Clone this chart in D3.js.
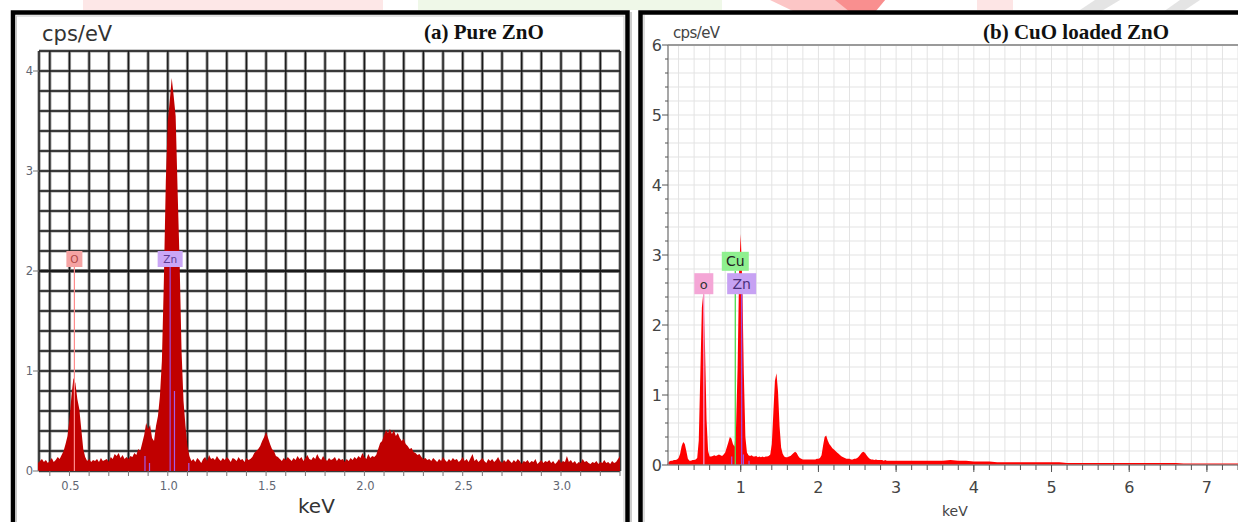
<!DOCTYPE html>
<html>
<head>
<meta charset="utf-8">
<script src="https://cdn.jsdelivr.net/npm/d3@7"></script>
<style>
  html, body { margin: 0; padding: 0; background: #fff; overflow: hidden; }
  svg { display: block; }
</style>
</head>
<body>
<svg id="chart" width="1238" height="522"></svg>
<script>
// (a) Pure ZnO spectrum, cps/eV, one value every 0.01 keV from 0.34 keV
const pureStart = 0.34, pureStep = 0.01;
const pureCounts = [
  0.08, 0.10, 0.12, 0.09, 0.11, 0.08, 0.10, 0.13, 0.09, 0.11,
  0.14, 0.12, 0.16, 0.20, 0.27, 0.35, 0.52, 0.75, 0.93, 0.88,
  0.72, 0.62, 0.42, 0.22, 0.14, 0.10, 0.12, 0.09, 0.11, 0.10,
  0.12, 0.09, 0.13, 0.10, 0.11, 0.12, 0.09, 0.14, 0.12, 0.17,
  0.15, 0.18, 0.13, 0.16, 0.12, 0.14, 0.12, 0.15, 0.14, 0.18,
  0.16, 0.22, 0.20, 0.28, 0.36, 0.48, 0.42, 0.46, 0.33, 0.30,
  0.45, 0.55, 0.75, 1.10, 1.90, 2.90, 3.50, 3.70, 3.93, 3.75,
  3.55, 2.80, 2.10, 1.20, 0.70, 0.45, 0.25, 0.15, 0.10, 0.12,
  0.09, 0.13, 0.11, 0.08, 0.12, 0.14, 0.10, 0.16, 0.12, 0.13,
  0.11, 0.15, 0.12, 0.10, 0.13, 0.11, 0.14, 0.12, 0.09, 0.13,
  0.12, 0.10, 0.14, 0.11, 0.12, 0.09, 0.13, 0.11, 0.12, 0.14,
  0.18, 0.20, 0.22, 0.25, 0.30, 0.34, 0.39, 0.33, 0.27, 0.22,
  0.20, 0.15, 0.14, 0.12, 0.10, 0.13, 0.11, 0.14, 0.12, 0.10,
  0.13, 0.11, 0.15, 0.12, 0.14, 0.10, 0.13, 0.16, 0.12, 0.11,
  0.14, 0.12, 0.17, 0.13, 0.11, 0.15, 0.12, 0.10, 0.13, 0.11,
  0.12, 0.14, 0.10, 0.13, 0.11, 0.12, 0.09, 0.12, 0.10, 0.13,
  0.11, 0.14, 0.12, 0.15, 0.13, 0.18, 0.14, 0.12, 0.17, 0.13,
  0.15, 0.14, 0.16, 0.22, 0.28, 0.30, 0.36, 0.41, 0.38, 0.42,
  0.37, 0.41, 0.35, 0.38, 0.33, 0.30, 0.32, 0.27, 0.25, 0.22,
  0.23, 0.19, 0.18, 0.16, 0.17, 0.14, 0.12, 0.13, 0.11, 0.12,
  0.10, 0.13, 0.11, 0.09, 0.12, 0.10, 0.14, 0.11, 0.09, 0.12,
  0.10, 0.13, 0.11, 0.12, 0.09, 0.11, 0.14, 0.10, 0.12, 0.09,
  0.13, 0.17, 0.10, 0.12, 0.09, 0.11, 0.13, 0.10, 0.08, 0.12,
  0.10, 0.12, 0.09, 0.11, 0.14, 0.10, 0.08, 0.11, 0.09, 0.12,
  0.10, 0.08, 0.11, 0.09, 0.12, 0.10, 0.07, 0.10, 0.09, 0.11,
  0.08, 0.10, 0.09, 0.12, 0.07, 0.09, 0.11, 0.08, 0.10, 0.09,
  0.11, 0.08, 0.10, 0.07, 0.09, 0.12, 0.08, 0.10, 0.09, 0.15,
  0.09, 0.11, 0.08, 0.10, 0.07, 0.09, 0.08, 0.12, 0.09, 0.10,
  0.08, 0.07, 0.09, 0.08, 0.10, 0.07, 0.09, 0.08, 0.11, 0.08,
  0.09, 0.07, 0.10, 0.08, 0.09, 0.12, 0.15
];

// (b) CuO loaded ZnO spectrum: every 0.02 keV up to 3 keV, then every 0.1 keV
const loadedStart = 0.06, loadedStep = 0.02;
const loadedCounts = [
  0.03, 0.05, 0.06, 0.06, 0.07, 0.07, 0.08, 0.10, 0.16, 0.27,
  0.33, 0.30, 0.20, 0.09, 0.06, 0.06, 0.07, 0.07, 0.08, 0.10,
  0.35, 1.30, 2.25, 2.47, 1.70, 0.65, 0.20, 0.12, 0.12, 0.13,
  0.14, 0.13, 0.14, 0.15, 0.14, 0.13, 0.15, 0.18, 0.25, 0.32,
  0.40, 0.38, 0.30, 0.26, 0.55, 1.40, 2.80, 3.30, 2.60, 1.30,
  0.40, 0.18, 0.14, 0.13, 0.14, 0.12, 0.12, 0.13, 0.11, 0.12,
  0.11, 0.12, 0.11, 0.12, 0.12, 0.13, 0.15, 0.30, 0.75, 1.20,
  1.31, 1.05, 0.55, 0.25, 0.16, 0.12, 0.11, 0.11, 0.12, 0.13,
  0.15, 0.17, 0.19, 0.17, 0.13, 0.10, 0.09, 0.08, 0.08, 0.08,
  0.08, 0.08, 0.08, 0.08, 0.08, 0.08, 0.09, 0.09, 0.10, 0.14,
  0.28, 0.40, 0.42, 0.35, 0.30, 0.27, 0.24, 0.22, 0.20, 0.18,
  0.16, 0.14, 0.12, 0.11, 0.10, 0.09, 0.09, 0.09, 0.08, 0.08,
  0.09, 0.09, 0.10, 0.12, 0.15, 0.18, 0.19, 0.17, 0.14, 0.11,
  0.09, 0.08, 0.08, 0.07, 0.08, 0.07, 0.07, 0.07, 0.07, 0.06,
  0.07, 0.06, 0.06, 0.06, 0.06, 0.06, 0.06, 0.06
];
const loadedTailStart = 3.1, loadedTailStep = 0.1;
const loadedTailCounts = [
  0.06, 0.06, 0.06, 0.06, 0.06, 0.06, 0.07, 0.06, 0.06, 0.05,
  0.05, 0.05, 0.04, 0.04, 0.04, 0.04, 0.04, 0.04, 0.04, 0.04,
  0.04, 0.03, 0.03, 0.03, 0.03, 0.03, 0.03, 0.03, 0.03, 0.03,
  0.03, 0.03, 0.03, 0.03, 0.03, 0.03, 0.02, 0.02, 0.02, 0.02,
  0.02, 0.02, 0.02, 0.02
];

// ticks
const pureXTicks = [0.5, 1.0, 1.5, 2.0, 2.5, 3.0];
const pureYTicks = [0, 1, 2, 3, 4];
const loadedXTicks = [1, 2, 3, 4, 5, 6, 7];
const loadedYTicks = [0, 1, 2, 3, 4, 5, 6];

// element markers
const pureElements = ["O", "Zn"];
const pureElementKeV = [0.525, 1.012];
const pureZnLineKeV = [0.884, 0.907, 1.034, 1.107];
const pureZnLineHeight = [0.15, 0.08, 0.8, 0.08];

const loadedElements = ["O", "Cu", "Zn"];
const loadedElementKeV = [0.525, 0.93, 1.012];
const loadedZnLineKeV = [0.884, 1.034, 1.107];
const loadedZnLineHeight = [0.12, 0.15, 0.06];

const markerStyle = {
  O:  { box: "#f5a3a3", text: "#b04848", line: "#ff8a8a" },
  Zn: { box: "#caa6f6", text: "#5b3a94", line: "#9b4fe0" },
  Cu: { box: "#8ff08f", text: "#1f3a1f", line: "#5ee05e" }
};
const loadedMarkerStyle = {
  O:  { box: "#f4a6d6", text: "#333", line: "#f59ad0" },
  Zn: { box: "#c7a2f3", text: "#4a2f7a", line: "#9b4fe0" },
  Cu: { box: "#8ff08f", text: "#222", line: "#4fdc4f" }
};

const toPoints = (start, step, vals) =>
  vals.map((v, i) => ({ k: +(start + i * step).toFixed(3), v }));

const svg = d3.select("#chart");

// faint page watermark strip along the top
const wm = svg.append("g");
wm.append("rect").attr("x", 83).attr("y", 0).attr("width", 300).attr("height", 10).attr("fill", "#fde7e7");
wm.append("rect").attr("x", 418).attr("y", 0).attr("width", 304).attr("height", 10).attr("fill", "#eff8e8");
wm.append("polygon").attr("points", "770,0 885,0 875,12 795,12").attr("fill", "#fcc6c6");
wm.append("polygon").attr("points", "835,0 885,0 875,12 850,12").attr("fill", "#f98f8f");
wm.append("rect").attr("x", 977).attr("y", 0).attr("width", 36).attr("height", 10).attr("fill", "#fde5e5");
wm.append("polygon").attr("points", "1095,0 1120,0 1100,12 1077,12").attr("fill", "#e4e4e4");
wm.append("polygon").attr("points", "1180,0 1200,0 1182,12 1163,12").attr("fill", "#e4e4e4");

// ---------- panel (a) ----------
function drawPure() {
  const g = svg.append("g");
  g.append("rect").attr("x", 13).attr("y", 12.5).attr("width", 614.5).attr("height", 540)
    .attr("fill", "#fff").attr("stroke", "#000").attr("stroke-width", 4.5);
  g.append("rect").attr("x", 16.5).attr("y", 16).attr("width", 607.5).attr("height", 540)
    .attr("fill", "none").attr("stroke", "#c8c8c8").attr("stroke-width", 1);
  g.append("line").attr("x1", 631).attr("x2", 631).attr("y1", 12).attr("y2", 522)
    .attr("stroke", "#999").attr("stroke-width", 1);

  const x = d3.scaleLinear().domain([0.345, 3.3]).range([39, 620]);
  const y = d3.scaleLinear().domain([0, 4.2]).range([471, 51]);

  const vGrid = [0.345].concat(d3.range(4, 34).map(i => i / 10));
  const hGrid = d3.range(0, 22).map(i => i / 5);

  const grid = g.append("g");
  [["#999", 3.2], ["#1a1a1a", 1.4]].forEach(([c, w]) => {
    grid.selectAll(null).data(vGrid).enter().append("line")
      .attr("x1", d => x(d)).attr("x2", d => x(d))
      .attr("y1", y(4.2)).attr("y2", y(0))
      .attr("stroke", c).attr("stroke-width", w);
    grid.selectAll(null).data(hGrid).enter().append("line")
      .attr("x1", x(0.345)).attr("x2", x(3.3))
      .attr("y1", d => y(d)).attr("y2", d => y(d))
      .attr("stroke", c).attr("stroke-width", d => d === 2 ? w + 1 : w);
  });

  const pts = toPoints(pureStart, pureStep, pureCounts);
  const area = d3.area().x(d => x(d.k)).y0(y(0)).y1(d => y(d.v));
  g.append("path").datum(pts).attr("d", area).attr("fill", "#c00000");

  // Zn minor lines
  g.selectAll(null).data(pureZnLineKeV).enter().append("line")
    .attr("x1", d => x(d)).attr("x2", d => x(d))
    .attr("y1", (d, i) => y(pureZnLineHeight[i])).attr("y2", y(0))
    .attr("stroke", "#a35ae8").attr("stroke-width", 1.2);

  // element markers
  const labelY = y(2.12);
  pureElements.forEach((el, i) => {
    const cx = x(pureElementKeV[i]);
    const st = markerStyle[el];
    g.append("line").attr("x1", cx).attr("x2", cx).attr("y1", labelY + 8).attr("y2", y(0))
      .attr("stroke", st.line).attr("stroke-width", 1.2);
    const w = el.length > 1 ? 25 : 16;
    g.append("rect").attr("x", cx - w / 2).attr("y", labelY - 8).attr("width", w).attr("height", 16)
      .attr("fill", st.box);
    g.append("text").attr("x", cx).attr("y", labelY + 4).attr("text-anchor", "middle")
      .attr("font-family", "DejaVu Sans").attr("font-size", 10.5).attr("fill", st.text).text(el);
  });

  // axes
  const ax = g.append("g").attr("font-family", "DejaVu Sans").attr("fill", "#5f6673");
  ax.selectAll(null).data(d3.range(4, 34).map(i => i / 10)).enter().append("line")
    .attr("x1", d => x(d)).attr("x2", d => x(d)).attr("y1", y(0)).attr("y2", y(0) + 5)
    .attr("stroke", "#777").attr("stroke-width", 1);
  ax.selectAll(null).data(pureXTicks).enter().append("text")
    .attr("x", d => x(d) + 1).attr("y", 490).attr("text-anchor", "middle")
    .attr("font-size", 11.5).text(d => d.toFixed(1));
  ax.selectAll(null).data(pureYTicks).enter().append("line")
    .attr("x1", 33).attr("x2", 39).attr("y1", d => y(d)).attr("y2", d => y(d))
    .attr("stroke", "#777").attr("stroke-width", 1);
  ax.selectAll(null).data(pureYTicks).enter().append("text")
    .attr("x", 33).attr("y", d => y(d) + 4).attr("text-anchor", "end")
    .attr("font-size", 11.5).text(d => d);

  g.append("text").attr("x", 42).attr("y", 41).attr("font-family", "DejaVu Sans")
    .attr("font-size", 21).attr("fill", "#333").text("cps/eV");
  g.append("text").attr("x", 298).attr("y", 513).attr("font-family", "DejaVu Sans")
    .attr("font-size", 20).attr("fill", "#333").text("keV");
  g.append("text").attr("x", 424).attr("y", 39).attr("font-family", "Liberation Serif")
    .attr("font-weight", "bold").attr("font-size", 21).attr("fill", "#111")
    .text("(a) Pure ZnO");
}

// ---------- panel (b) ----------
function drawLoaded() {
  const g = svg.append("g");
  g.append("rect").attr("x", 640.5).attr("y", 12.5).attr("width", 620).attr("height", 540)
    .attr("fill", "#fff").attr("stroke", "#000").attr("stroke-width", 4.5);
  g.append("line").attr("x1", 644).attr("x2", 644).attr("y1", 15).attr("y2", 522)
    .attr("stroke", "#bbb").attr("stroke-width", 1);

  const x = d3.scaleLinear().domain([0.064, 7.4]).range([668, 1238]);
  const y = d3.scaleLinear().domain([0, 6]).range([465, 45]);

  const vGrid = d3.range(1, 38).map(i => +(i * 0.2).toFixed(1));
  const hGrid = d3.range(1, 30).map(i => +(i * 0.2).toFixed(1));
  const grid = g.append("g").attr("stroke", "#e3e3e3").attr("stroke-width", 1);
  grid.selectAll(null).data(vGrid).enter().append("line")
    .attr("x1", d => x(d)).attr("x2", d => x(d)).attr("y1", y(6)).attr("y2", y(0));
  grid.selectAll(null).data(hGrid).enter().append("line")
    .attr("x1", x(0.064)).attr("x2", 1238).attr("y1", d => y(d)).attr("y2", d => y(d));

  const pts = toPoints(loadedStart, loadedStep, loadedCounts)
    .concat(toPoints(loadedTailStart, loadedTailStep, loadedTailCounts));
  const area = d3.area().x(d => x(d.k)).y0(y(0)).y1(d => y(d.v));
  g.append("path").datum(pts).attr("d", area).attr("fill", "#ff0000");

  g.selectAll(null).data(loadedZnLineKeV).enter().append("line")
    .attr("x1", d => x(d)).attr("x2", d => x(d))
    .attr("y1", (d, i) => y(loadedZnLineHeight[i])).attr("y2", y(0))
    .attr("stroke", "#a35ae8").attr("stroke-width", 1.2);

  // element markers: O and Zn share a row, Cu sits above
  const rowLevel = { O: 2.59, Zn: 2.59, Cu: 2.91 };
  const boxW = { O: 19, Zn: 29, Cu: 27 };
  const boxH = { O: 21, Zn: 21, Cu: 19 };
  loadedElements.forEach((el, i) => {
    const cx = x(loadedElementKeV[i]);
    const cy = y(rowLevel[el]);
    const st = loadedMarkerStyle[el];
    g.append("line").attr("x1", cx).attr("x2", cx).attr("y1", cy + boxH[el] / 2).attr("y2", y(0))
      .attr("stroke", st.line).attr("stroke-width", 1.3);
  });
  loadedElements.forEach((el, i) => {
    const cx = x(loadedElementKeV[i]);
    const cy = y(rowLevel[el]);
    const st = loadedMarkerStyle[el];
    g.append("rect").attr("x", cx - boxW[el] / 2).attr("y", cy - boxH[el] / 2)
      .attr("width", boxW[el]).attr("height", boxH[el]).attr("fill", st.box);
    g.append("text").attr("x", cx).attr("y", cy + 5).attr("text-anchor", "middle")
      .attr("font-family", "DejaVu Sans").attr("font-size", el === "O" ? 13 : 14)
      .attr("fill", st.text).text(el === "O" ? "o" : el);
  });

  // axes
  g.append("line").attr("x1", 668).attr("x2", 1238).attr("y1", y(6)).attr("y2", y(6))
    .attr("stroke", "#9a9a9a").attr("stroke-width", 2);
  g.append("line").attr("x1", 668).attr("x2", 668).attr("y1", y(6)).attr("y2", y(0))
    .attr("stroke", "#8a8a8a").attr("stroke-width", 1.5);
  g.append("line").attr("x1", 668).attr("x2", 1238).attr("y1", y(0)).attr("y2", y(0))
    .attr("stroke", "#8a8a8a").attr("stroke-width", 1.5);

  const ax = g.append("g").attr("font-family", "DejaVu Sans").attr("fill", "#444");
  ax.selectAll(null).data(vGrid).enter().append("line")
    .attr("x1", d => x(d)).attr("x2", d => x(d)).attr("y1", y(0)).attr("y2", y(0) + 5)
    .attr("stroke", "#555").attr("stroke-width", 1);
  ax.selectAll(null).data(loadedXTicks).enter().append("line")
    .attr("x1", d => x(d)).attr("x2", d => x(d)).attr("y1", y(0)).attr("y2", y(0) + 7)
    .attr("stroke", "#555").attr("stroke-width", 1);
  ax.selectAll(null).data(loadedXTicks).enter().append("text")
    .attr("x", d => x(d)).attr("y", 493).attr("text-anchor", "middle")
    .attr("font-size", 16).text(d => d);
  ax.selectAll(null).data(hGrid.concat([0, 6])).enter().append("line")
    .attr("x1", d => Number.isInteger(d) ? 662 : 665).attr("x2", 668)
    .attr("y1", d => y(d)).attr("y2", d => y(d))
    .attr("stroke", "#555").attr("stroke-width", 1);
  ax.selectAll(null).data(loadedYTicks).enter().append("text")
    .attr("x", 662).attr("y", d => y(d) + 6).attr("text-anchor", "end")
    .attr("font-size", 16).text(d => d);

  g.append("text").attr("x", 673).attr("y", 38).attr("font-family", "DejaVu Sans")
    .attr("font-size", 15).attr("fill", "#444").attr("textLength", 47).text("cps/eV");
  g.append("text").attr("x", 942).attr("y", 516).attr("font-family", "DejaVu Sans")
    .attr("font-size", 14).attr("fill", "#444").text("keV");
  g.append("text").attr("x", 983).attr("y", 39).attr("font-family", "Liberation Serif")
    .attr("font-weight", "bold").attr("font-size", 21).attr("fill", "#111")
    .text("(b) CuO loaded ZnO");
}

drawPure();
drawLoaded();
</script>
</body>
</html>
